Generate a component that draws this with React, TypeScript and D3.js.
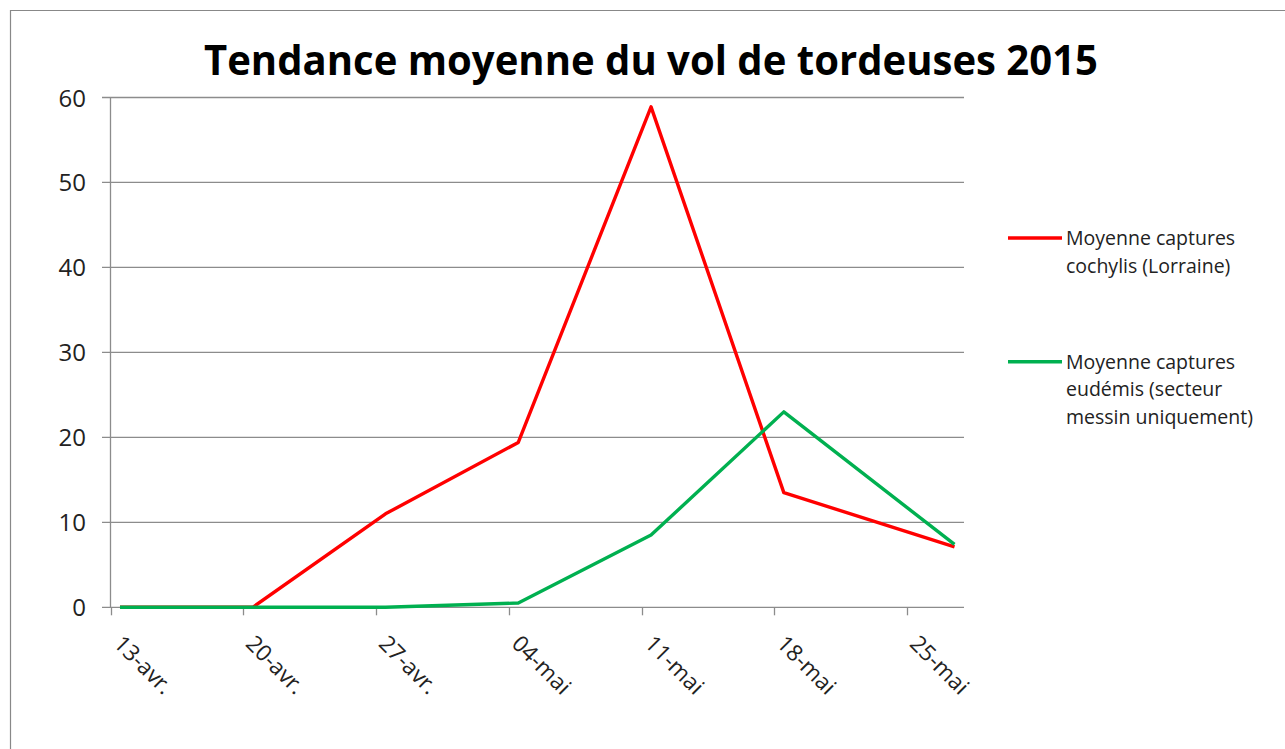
import React, { useRef, useEffect } from 'react';
import * as d3 from 'd3';

// sampling dates (weekly traps, last reading on 27 May)
const sampleDates = ['2015-04-13', '2015-04-20', '2015-04-27', '2015-05-04', '2015-05-11', '2015-05-18', '2015-05-27'];
const cochylis = [0, 0, 11, 19.4, 58.9, 13.5, 7.1];
const eudemis = [0, 0, 0, 0.5, 8.5, 23, 7.4];

const tickDates = ['2015-04-13', '2015-04-20', '2015-04-27', '2015-05-04', '2015-05-11', '2015-05-18', '2015-05-25'];
const tickLabels = ['13-avr.', '20-avr.', '27-avr.', '04-mai', '11-mai', '18-mai', '25-mai'];
const yTicks = [0, 10, 20, 30, 40, 50, 60];

const seriesNames = [
    ['Moyenne captures', 'cochylis (Lorraine)'],
    ['Moyenne captures', 'eudémis (secteur', 'messin uniquement)'],
];
const seriesColours = ['#ff0000', '#00b050'];

const title = 'Tendance moyenne du vol de tordeuses 2015';

const W = 1285;
const H = 749;
const FONT = "'Open Sans', 'Liberation Sans', sans-serif";
const GRID = '#8c8c8c';

const App = () => {
    const svgRef = useRef<SVGSVGElement | null>(null);

    useEffect(() => {
        if (!svgRef.current) return;
        const svg = d3.select(svgRef.current);
        svg.selectAll('*').remove();

        const parse = (s: string) => new Date(s + 'T00:00:00Z');
        const mid = (s: string) => new Date(parse(s).getTime() + 12 * 3600 * 1000);

        const x = d3.scaleUtc()
            .domain([parse('2015-04-13'), parse('2015-05-28')])
            .range([110.5, 964]);
        const y = d3.scaleLinear().domain([0, 60]).range([607.3, 97.5]);

        // chart frame (only top and left edges are in view)
        svg.append('path')
            .attr('d', `M10.5,${H} V10.5 H${W}`)
            .attr('fill', 'none')
            .attr('stroke', '#888')
            .attr('stroke-width', 1.2);

        svg.append('text')
            .attr('x', 204)
            .attr('y', 75)
            .attr('textLength', 894)
            .attr('lengthAdjust', 'spacingAndGlyphs')
            .style('font-family', FONT)
            .style('font-weight', 700)
            .style('font-size', '41px')
            .style('fill', '#000')
            .text(title);

        // gridlines + y ticks
        const yAxis = svg.append('g');
        yTicks.forEach(v => {
            yAxis.append('line')
                .attr('x1', 102).attr('x2', 964)
                .attr('y1', y(v)).attr('y2', y(v))
                .attr('stroke', GRID).attr('stroke-width', 1.3);
            yAxis.append('text')
                .attr('x', 86)
                .attr('y', y(v) + 9)
                .attr('text-anchor', 'end')
                .style('font-family', FONT)
                .style('font-size', '24px')
                .style('fill', '#222')
                .text(v);
        });
        yAxis.append('line')
            .attr('x1', 110.5).attr('x2', 110.5)
            .attr('y1', y(60)).attr('y2', y(0))
            .attr('stroke', GRID).attr('stroke-width', 1.3);

        // x ticks and rotated labels
        const xAxis = svg.append('g');
        tickDates.forEach((d, i) => {
            const tx = Math.round(x(parse(d))) + 0.5;
            xAxis.append('line')
                .attr('x1', tx).attr('x2', tx)
                .attr('y1', y(0)).attr('y2', y(0) + 8)
                .attr('stroke', GRID).attr('stroke-width', 1.3);
            xAxis.append('text')
                .attr('transform', `translate(${tx + 1},645) rotate(45)`)
                .attr('text-anchor', 'start')
                .style('font-family', FONT)
                .style('font-size', '22.5px')
                .style('fill', '#222')
                .text(tickLabels[i]);
        });

        const line = d3.line<number>()
            .x((_, i) => x(mid(sampleDates[i])))
            .y(v => y(v));

        [cochylis, eudemis].forEach((vals, k) => {
            svg.append('path')
                .datum(vals)
                .attr('d', line)
                .attr('fill', 'none')
                .attr('stroke', seriesColours[k])
                .attr('stroke-width', 3.4)
                .attr('stroke-linejoin', 'round');
        });

        // legend
        const legendY = [238, 361.7];
        seriesNames.forEach((lines, k) => {
            const g = svg.append('g');
            g.append('line')
                .attr('x1', 1008).attr('x2', 1062)
                .attr('y1', legendY[k]).attr('y2', legendY[k])
                .attr('stroke', seriesColours[k])
                .attr('stroke-width', 3.4);
            lines.forEach((t, j) => {
                g.append('text')
                    .attr('x', 1066)
                    .attr('y', legendY[k] + 7 + j * 27.5)
                    .style('font-family', FONT)
                    .style('font-size', '19.5px')
                    .style('fill', '#222')
                    .text(t);
            });
        });
    }, []);

    return (
        <div style={{ position: 'absolute', left: 0, top: 0 }}>
            <svg ref={svgRef} width={W} height={H} style={{ display: 'block', background: '#fff' }}></svg>
        </div>
    );
};

export default App;
